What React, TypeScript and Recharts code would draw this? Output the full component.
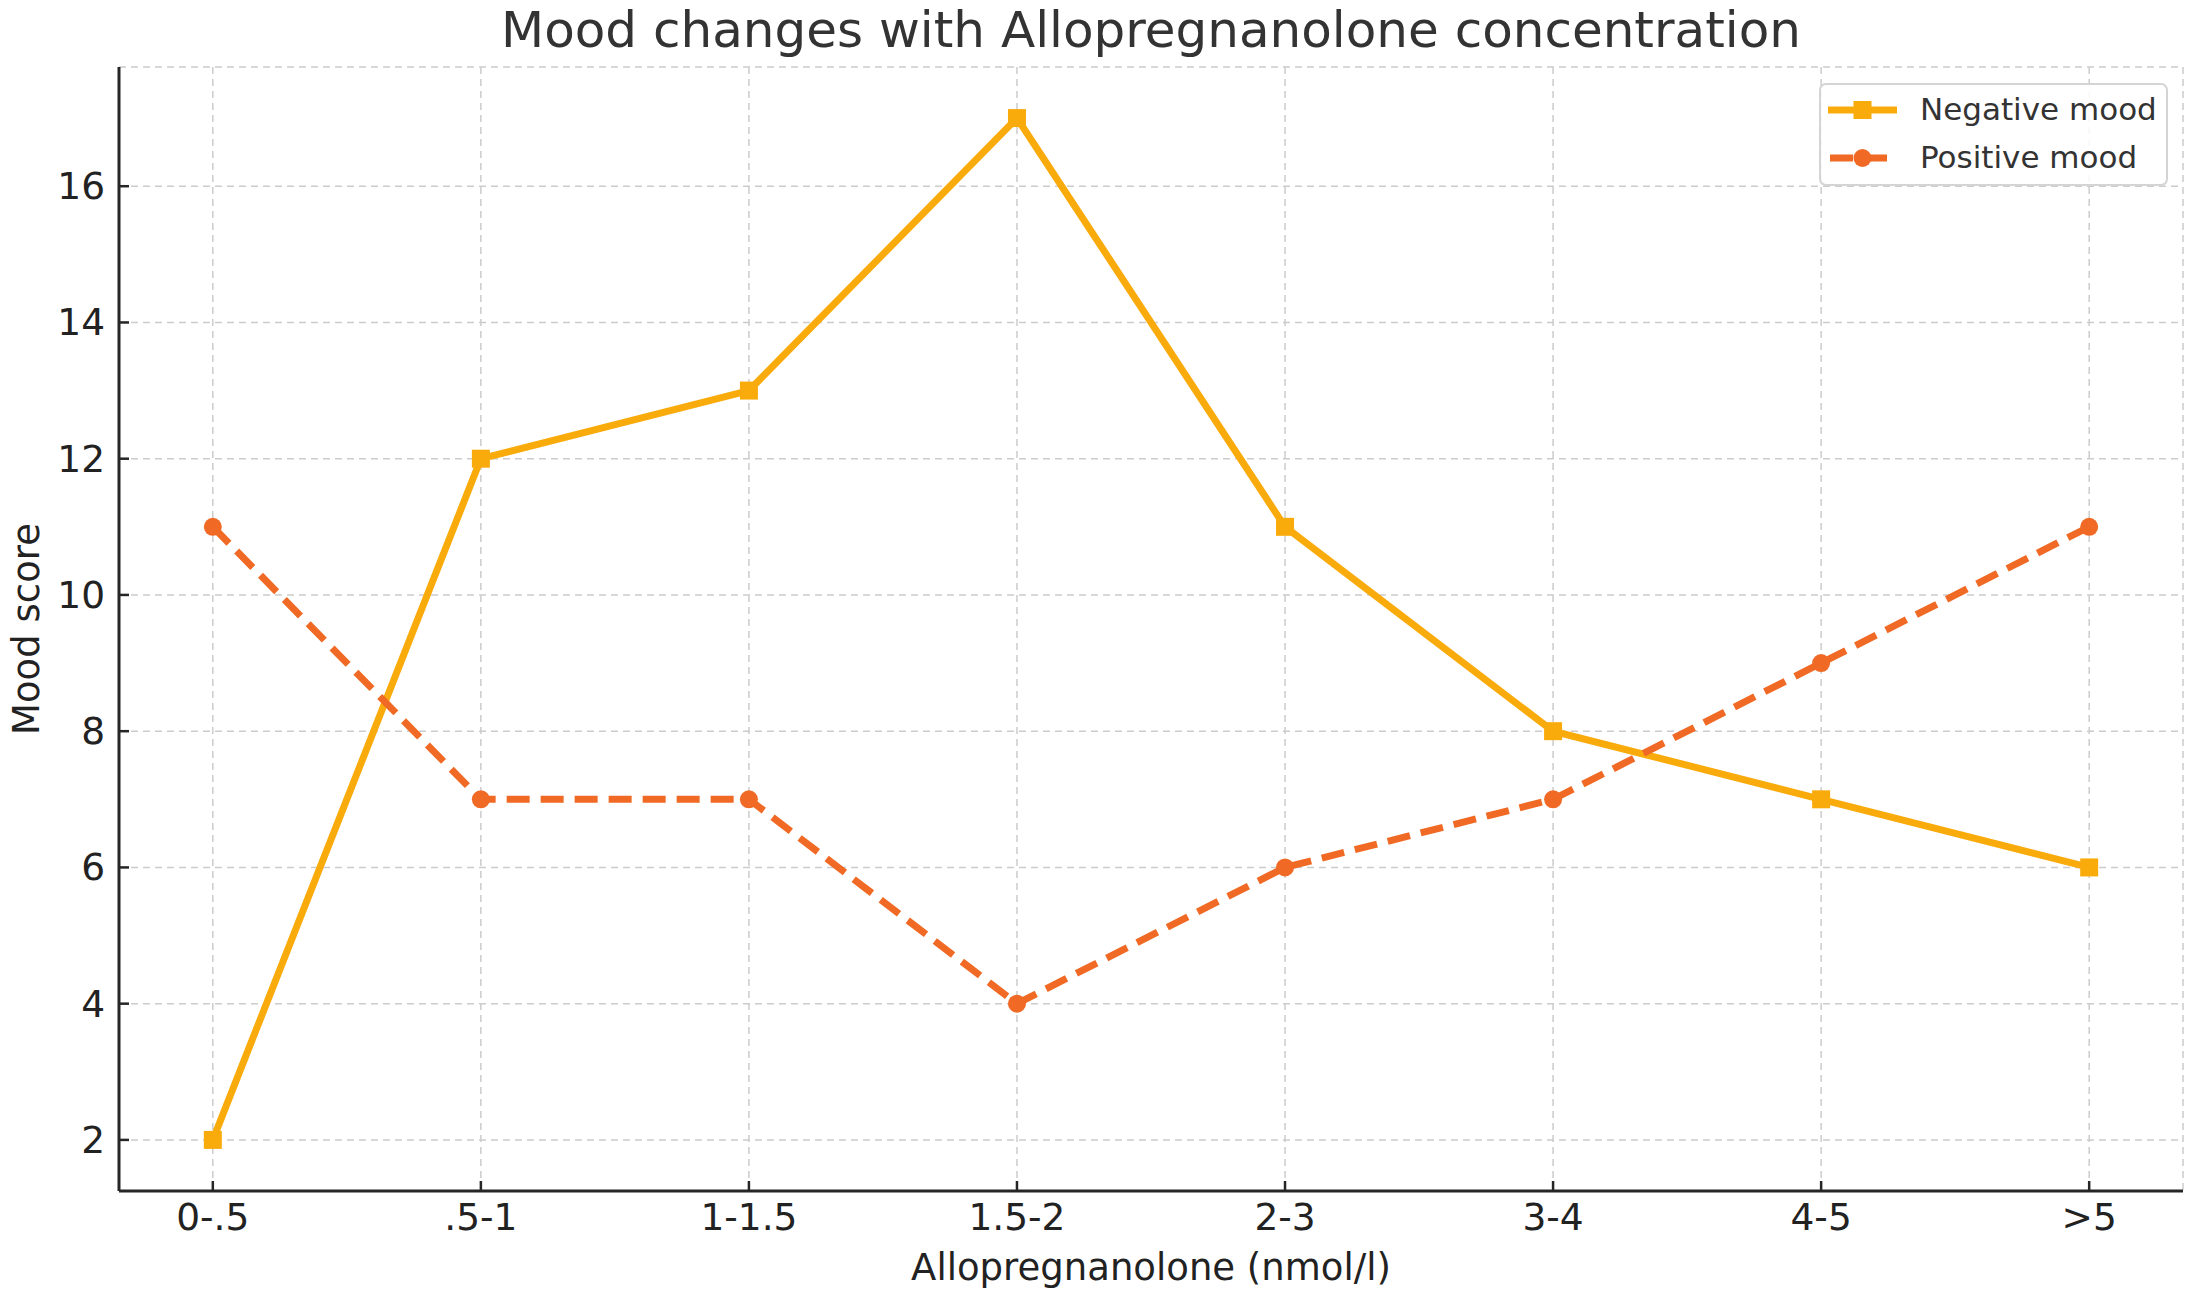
import React from 'react'
import {
  LineChart,
  Line,
  XAxis,
  YAxis,
  CartesianGrid,
  Legend,
  Label,
} from 'recharts'

const categories = ['0-.5', '.5-1', '1-1.5', '1.5-2', '2-3', '3-4', '4-5', '>5']
const negativeMood = [2, 12, 13, 17, 11, 8, 7, 6]
const positiveMood = [11, 7, 7, 4, 6, 7, 9, 11]
const yTicks = [2, 4, 6, 8, 10, 12, 14, 16]

const data = categories.map((name, i) => ({
  idx: i,
  name,
  negative: negativeMood[i],
  positive: positiveMood[i],
}))

const FONT = '"DejaVu Sans", sans-serif'
const NEG = '#FAAB0C'
const POS = '#F06A25'
const AXIS = '#262626'

const XTick = (props: any) => {
  const { x, y, payload } = props
  return (
    <g>
      <line x1={x} x2={x} y1={y} y2={y - 10} stroke={AXIS} strokeWidth={2.5} />
      <text x={x} y={y + 39} textAnchor="middle" fontFamily={FONT} fontSize={37.5} fill="#222">
        {categories[payload.value]}
      </text>
    </g>
  )
}

const YTick = (props: any) => {
  const { x, y, payload } = props
  return (
    <g>
      <line x1={x} x2={x + 10} y1={y} y2={y} stroke={AXIS} strokeWidth={2.5} />
      <text x={x - 14} y={y + 13} textAnchor="end" fontFamily={FONT} fontSize={37.5} fill="#222">
        {payload.value}
      </text>
    </g>
  )
}

// matplotlib-style square marker
const SquareDot = (props: any) => {
  const { cx, cy } = props
  return <rect x={cx - 9} y={cy - 9} width={18} height={18} fill={NEG} />
}

const renderLegend = () => (
  <svg width={350} height={104}>
    <rect x={1} y={1} width={347} height={101} rx={6} fill="rgba(255,255,255,0.85)" stroke="#d4d4d4" strokeWidth={2} />
    <line x1={9} x2={78} y1={27} y2={27} stroke={NEG} strokeWidth={7} />
    <rect x={34.5} y={18} width={18} height={18} fill={NEG} />
    <text x={101} y={37} fontFamily={FONT} fontSize={31} fill="#333">Negative mood</text>
    <line x1={11} x2={76} y1={75} y2={75} stroke={POS} strokeWidth={7} strokeDasharray="23 11" />
    <circle cx={43.5} cy={75} r={9} fill={POS} />
    <text x={101} y={85} fontFamily={FONT} fontSize={31} fill="#333">Positive mood</text>
  </svg>
)

export default function App() {
  return (
    <div style={{ position: 'absolute', left: 0, top: 0, width: 2194, height: 1299, background: '#fff' }}>
      <div
        style={{
          position: 'absolute',
          left: 0,
          width: 2302,
          top: 5,
          textAlign: 'center',
          fontFamily: FONT,
          fontSize: 50,
          lineHeight: '50px',
          color: '#333',
          whiteSpace: 'nowrap',
        }}
      >
        Mood changes with Allopregnanolone concentration
      </div>
      <LineChart
        width={2194}
        height={1299}
        data={data}
        margin={{ top: 67, right: 11, bottom: 8, left: 9 }}
      >
        <CartesianGrid stroke="#cccccc" strokeWidth={1.5} strokeDasharray="7 5" />
        <XAxis
          dataKey="idx"
          type="number"
          domain={[-0.35, 7.35]}
          ticks={[0, 1, 2, 3, 4, 5, 6, 7]}
          allowDataOverflow
          height={100}
          tickSize={0}
          tickMargin={0}
          tickLine={false}
          axisLine={{ stroke: AXIS, strokeWidth: 3 }}
          tick={<XTick />}
          interval={0}
        >
          <Label
            content={(p: any) => {
              const vb = p.viewBox
              return (
                <text x={vb.x + vb.width / 2} y={vb.y + 89} textAnchor="middle" fontFamily={FONT} fontSize={37} fill="#222">
                  Allopregnanolone (nmol/l)
                </text>
              )
            }}
          />
        </XAxis>
        <YAxis
          type="number"
          domain={[1.25, 17.75]}
          ticks={yTicks}
          allowDataOverflow
          width={110}
          tickSize={0}
          tickMargin={0}
          tickLine={false}
          axisLine={{ stroke: AXIS, strokeWidth: 3 }}
          tick={<YTick />}
          interval={0}
        >
          <Label
            content={(p: any) => {
              const vb = p.viewBox
              const cy = vb.y + vb.height / 2
              return (
                <text x={39} y={cy} textAnchor="middle" transform={`rotate(-90 39 ${cy})`} fontFamily={FONT} fontSize={37} fill="#222">
                  Mood score
                </text>
              )
            }}
          />
        </YAxis>
        <Legend
          layout="vertical"
          align="center"
          verticalAlign="middle"
          content={renderLegend}
          wrapperStyle={{ position: 'absolute', left: 1819, top: 83, width: 350, height: 104 }}
        />
        <Line
          type="linear"
          dataKey="negative"
          stroke={NEG}
          strokeWidth={7}
          dot={<SquareDot />}
          activeDot={false}
          isAnimationActive={false}
        />
        <Line
          type="linear"
          dataKey="positive"
          stroke={POS}
          strokeWidth={7}
          strokeDasharray="23 11"
          dot={{ r: 9, fill: POS, stroke: 'none' }}
          activeDot={false}
          isAnimationActive={false}
        />
      </LineChart>
    </div>
  )
}
